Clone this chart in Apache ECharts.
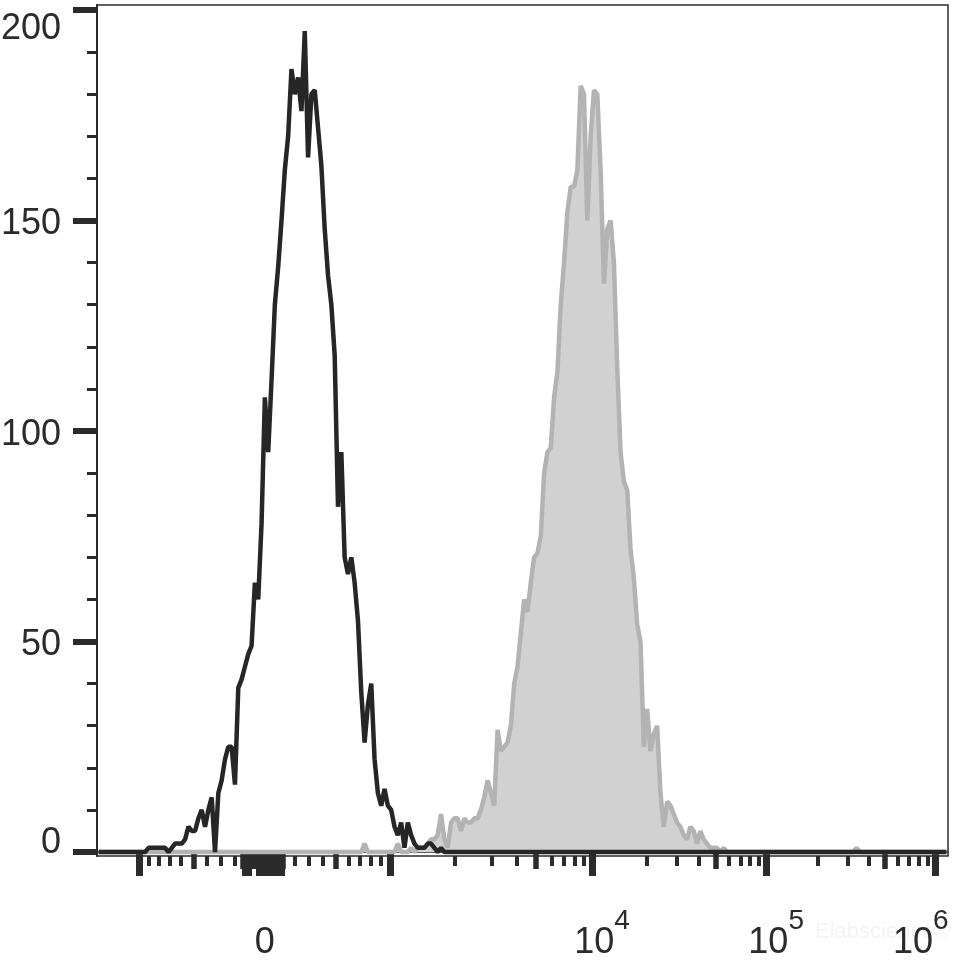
<!DOCTYPE html>
<html><head><meta charset="utf-8">
<script src="https://cdn.jsdelivr.net/npm/echarts@6/dist/echarts.min.js"></script>
<style>html,body{margin:0;padding:0;background:#fff;overflow:hidden}#c{width:969px;height:968px}</style>
</head><body><div id="c"></div>
<script>
// ---- histogram data (counts per bin of 4 display channels, 256 bins over 1024 channels) ----
const binWidth = 4;
const nBins = 256;
const blackStartBin = 14;
const blackCounts = [0,1,1,1,1,1,1,0,1,2,2,2,3,6,5,5,8,10,6,10,13,0,14,17,22,25,25,16,39,41,44,47,49,64,60,78,108,95,112,130,139,150,162,170,186,180,184,176,195,165,180,181,172,163,148,137,130,118,82,95,70,66,70,64,55,38,26,35,40,22,14,11,15,11,10,6,4,7,1,7,4,2,1,1,1,2,2,1,0,1,0];
const grayStartBin = 78;
const grayCounts = [0,0,2,0,0,0,0,0,0,0,0,0,2,0,0,0,1,0,1,1,
  1,2,3,3,4,9,3,1,7,8,8,5,8,7,7,8,8,10,13,17,14,11,29,24,25,26,30,40,44,52,60,57,64,70,71,75,90,95,96,108,114,130,140,152,158,158,162,182,180,150,170,181,180,162,135,148,150,140,115,95,88,86,72,65,54,50,25,34,24,28,30,14,6,12,11,9,7,6,4,3,6,5,2,5,3,2,1,1,1,0,1,0];
const grayFarBins = [228];
const grayFarCounts = [1];

// ---- axis ticks (fluorescence values) and labels ----
const xMajorTicks = [-1000, 0, 1000, 1e4, 1e5, 1e6];
const xMediumTicks = [-500, 500, 5000, 5e4, 5e5];
const xMinorTicks = [-900,-800,-700,-600,-400,-300,-200,200,300,400,600,700,800,900,
  2000,3000,4000,6000,7000,8000,9000,2e4,3e4,4e4,6e4,7e4,8e4,9e4,2e5,3e5,4e5,6e5,7e5,8e5,9e5];
const xZeroClusterMedium = [-150,-140,-130,-120,-110,-100,-90,-80,-70,-60,-50,-40,-30,-20,-10,10,20,30,40,50,60,70,80,90,100,110,120];
const xZeroClusterLong = [-130,-120,-110,-40,-30,30,50,70,90,110];
const xLabelValues = [0, 1e4, 1e5, 1e6];
const xLabelBase = ['0', '10', '10', '10'];
const xLabelExp = ['', '4', '5', '6'];
const yMajorTicks = [0, 50, 100, 150, 200];
const yMinorTicks = [10,20,30,40,60,70,80,90,110,120,130,140,160,170,180,190];

// ---- biexponential (logicle-like) display transform: channel <-> value ----
const CH_MAX = 1024, ZERO_CH = 202, DECADE_CH = 202, P = 3.8, TSCALE = 101.4;
function valueAt(u) {
  const d = Math.abs(u - ZERO_CH) / DECADE_CH;
  const s = TSCALE * (Math.pow(10, d) - P * P * Math.pow(10, -d / P) + P * P - 1);
  return u < ZERO_CH ? -s : s;
}
function toChan(v) {
  let lo = -2000, hi = 3000;
  for (let k = 0; k < 80; k++) { const m = (lo + hi) / 2; if (valueAt(m) < v) lo = m; else hi = m; }
  return (lo + hi) / 2;
}

function buildSeries(start, counts, farBins, farCounts) {
  const arr = [];
  for (let i = 0; i < nBins; i++) arr.push([i * binWidth + binWidth / 2, 0]);
  counts.forEach((c, k) => { arr[start + k][1] = c; });
  (farBins || []).forEach((b, k) => { arr[b][1] = farCounts[k]; });
  return arr;
}
const blackData = buildSeries(blackStartBin, blackCounts);
const grayData = buildSeries(grayStartBin, grayCounts, grayFarBins, grayFarCounts);

const FONT = 'Liberation Sans, Arial, sans-serif';
const INK = '#2b2b2b';
const xLabelChans = xLabelValues.map(toChan);

function xLabelFormatter(v) {
  let idx = 0, best = Infinity;
  xLabelChans.forEach((c, i) => { const d = Math.abs(c - v); if (d < best) { best = d; idx = i; } });
  if (!xLabelExp[idx]) return '{t|' + xLabelBase[idx] + '}{h| }';
  if (idx === xLabelValues.length - 1) return '{t|' + xLabelBase[idx] + '}{s|' + xLabelExp[idx] + '}{r| }';
  return '{l| }{t|' + xLabelBase[idx] + '}{s|' + xLabelExp[idx] + '}';
}

function tickAxis(values, len, width, extra) {
  return Object.assign({
    type: 'value', min: 0, max: CH_MAX, position: 'bottom',
    axisLine: { show: false }, splitLine: { show: false },
    axisLabel: { show: false },
    axisTick: { show: true, length: len, customValues: values.map(toChan), lineStyle: { color: INK, width: width } }
  }, extra || {});
}

const chart = echarts.init(document.getElementById('c'), null, { renderer: 'canvas' });
chart.setOption({
  animation: false,
  backgroundColor: '#ffffff',
  grid: { left: 97, right: 21, top: 5, bottom: 112, outerBoundsMode: 'none', containLabel: false,
    show: true, borderColor: INK, borderWidth: 1.5, backgroundColor: 'transparent' },
  graphic: [{ type: 'text', left: 815, top: 921, silent: true,
    style: { text: 'Elabscience®', fill: '#f4f4f4', font: '22px ' + FONT } }],
  xAxis: [
    tickAxis(xMajorTicks.concat(xZeroClusterLong), 24, 7, {
      axisLine: { show: true, lineStyle: { color: INK, width: 1.5 } },
      axisLabel: {
        show: true, customValues: xLabelChans, margin: 51, formatter: xLabelFormatter,
        color: INK, fontFamily: FONT,
        rich: {
          t: { fontSize: 36, lineHeight: 36, verticalAlign: 'bottom', fontFamily: FONT, color: INK },
          s: { fontSize: 28, lineHeight: 28, verticalAlign: 'top', fontFamily: FONT, color: INK },
          h: { width: 0, fontSize: 8, lineHeight: 54 },
          l: { width: 19, fontSize: 8, lineHeight: 54 },
          r: { width: 29, fontSize: 8, lineHeight: 54 }
        }
      }
    }),
    tickAxis(xMediumTicks.concat(xZeroClusterMedium), 17, 5.5),
    tickAxis(xMinorTicks, 10, 4)
  ],
  yAxis: [
    {
      type: 'value', min: -0.95, max: 201.2, position: 'left',
      axisLine: { show: true, lineStyle: { color: INK, width: 2 } },
      splitLine: { show: false },
      axisTick: { show: true, length: 24, customValues: yMajorTicks, lineStyle: { color: INK, width: 6 } },
      axisLabel: {
        show: true, customValues: yMajorTicks, margin: 36, color: INK, fontFamily: FONT, fontSize: 36,
        formatter: function (v) {
          if (v === 200) return '{a|' + v + '}';
          if (v === 0) return '{b|' + v + '}';
          return '{m|' + v + '}';
        },
        rich: {
          a: { fontSize: 36, fontFamily: FONT, color: INK, padding: [38, 0, 0, 0] },
          b: { fontSize: 36, fontFamily: FONT, color: INK, padding: [0, 0, 18, 0] },
          m: { fontSize: 36, fontFamily: FONT, color: INK, padding: [8, 0, 0, 0] }
        }
      }
    },
    {
      type: 'value', min: -0.95, max: 201.2, position: 'left',
      axisLine: { show: false }, splitLine: { show: false }, axisLabel: { show: false },
      axisTick: { show: true, length: 10, customValues: yMinorTicks, lineStyle: { color: INK, width: 3 } }
    }
  ],
  series: [
    {
      type: 'line', name: 'stained', data: grayData, xAxisIndex: 0, yAxisIndex: 0,
      showSymbol: false, symbol: 'none', z: 2,
      lineStyle: { color: '#b3b3b3', width: 4.5 },
      areaStyle: { color: '#d1d1d1', opacity: 1 }
    },
    {
      type: 'line', name: 'control', data: blackData, xAxisIndex: 0, yAxisIndex: 0,
      showSymbol: false, symbol: 'none', z: 3,
      lineStyle: { color: '#262626', width: 4.5 }
    }
  ]
});
</script></body></html>
